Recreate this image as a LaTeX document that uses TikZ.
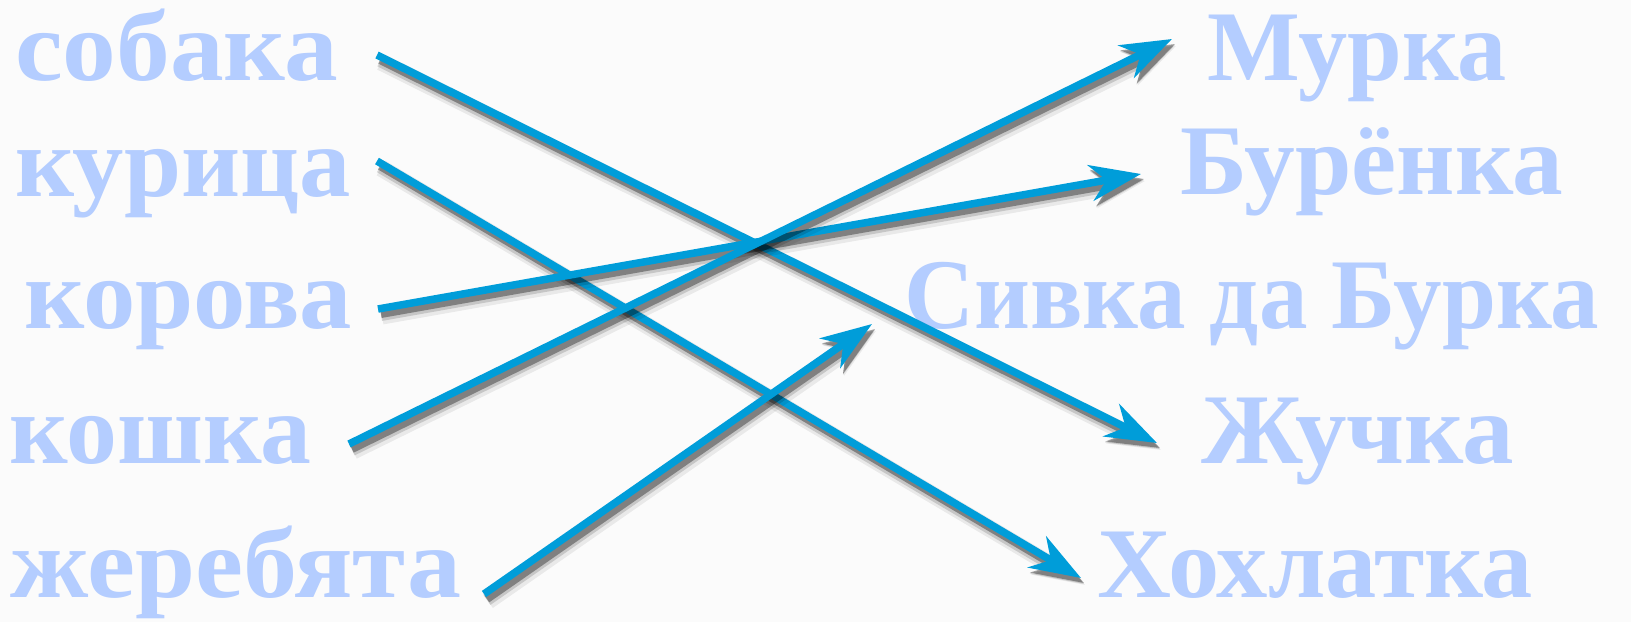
\documentclass[tikz,border=0pt]{standalone}
\usepackage{fontspec}
\usepackage{graphicx}
\setmainfont{Liberation Serif}
\usetikzlibrary{arrows.meta}
\definecolor{bgcol}{RGB}{251,251,251}
\definecolor{wordcol}{RGB}{180,205,255}
\definecolor{arrowcol}{RGB}{0,157,217}
\tikzset{
  word/.style={anchor=base west, inner sep=0pt, text=wordcol,
    font=\fontsize{100}{100}\selectfont\bfseries},
  tipstyle/.style={-{Stealth[length=51pt,width=36pt,inset=16pt]}},
  mainarrow/.style={tipstyle, draw=arrowcol, fill=arrowcol, line width=7.5pt},
  shadowarrow/.style={tipstyle, draw=black, fill=black},
}
\newcommand\stretchword[2]{\scalebox{#1}[1]{#2}}
\newcommand\linkarrow[2]{%
  \begin{scope}[transparency group, opacity=0.07]
    \draw[shadowarrow, line width=17pt] ([shift={(4,7)}]#1) -- ([shift={(4,7)}]#2);
  \end{scope}
  \begin{scope}[transparency group, opacity=0.15]
    \draw[shadowarrow, line width=12pt] ([shift={(3,6)}]#1) -- ([shift={(3,6)}]#2);
  \end{scope}
  \begin{scope}[transparency group, opacity=0.35]
    \draw[shadowarrow, line width=8pt] ([shift={(3,5)}]#1) -- ([shift={(3,5)}]#2);
  \end{scope}
  \draw[mainarrow] (#1) -- (#2);
}
\begin{document}
\begin{tikzpicture}[x=1pt,y=-1pt]
  \fill[bgcol] (0,0) rectangle (1631,622);
  \useasboundingbox (0,0) rectangle (1631,622);

  % left words
  \node[word] (sobaka) at (15,80) {\stretchword{1.074}{собака}};
  \node[word] (kurica) at (15,196) {\stretchword{1.026}{курица}};
  \node[word] (korova) at (24,328) {\stretchword{1.047}{корова}};
  \node[word] (koshka) at (9,463) {\stretchword{1.018}{кошка}};
  \node[word] (zherebyata) at (10,597) {\stretchword{1.08}{жеребята}};

  % right words
  \node[word] (murka) at (1207,80) {\stretchword{0.983}{Мурка}};
  \node[word] (burenka) at (1180,194) {\stretchword{1.014}{Бурёнка}};
  \node[word] (sivka) at (904,328) {\stretchword{0.971}{Сивка да Бурка}};
  \node[word] (zhuchka) at (1201,463) {\stretchword{1.03}{Жучка}};
  \node[word] (hohlatka) at (1097,597) {\stretchword{1.025}{Хохлатка}};

  % connector ends
  \coordinate (sobakaR) at (377,55);
  \coordinate (kuricaR) at (377,161);
  \coordinate (korovaR) at (378,309);
  \coordinate (koshkaR) at (349,444);
  \coordinate (zherebyataR) at (484,594);

  \coordinate (murkaL) at (1172,39);
  \coordinate (burenkaL) at (1141,174);
  \coordinate (sivkaL) at (872,324);
  \coordinate (zhuchkaL) at (1157,443);
  \coordinate (hohlatkaL) at (1081,578);

  \linkarrow{sobakaR}{zhuchkaL}
  \linkarrow{kuricaR}{hohlatkaL}
  \linkarrow{korovaR}{burenkaL}
  \linkarrow{koshkaR}{murkaL}
  \linkarrow{zherebyataR}{sivkaL}
\end{tikzpicture}
\end{document}
